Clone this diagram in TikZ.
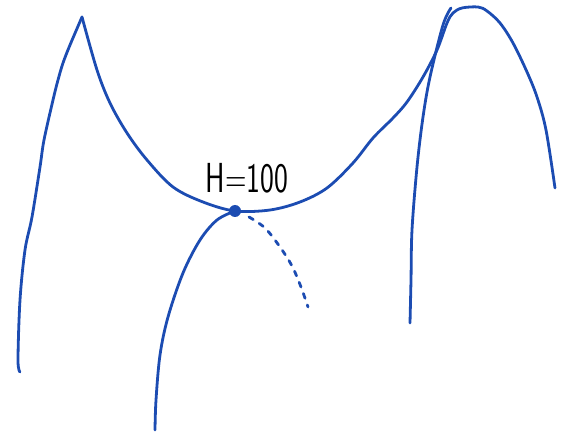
\documentclass[tikz,border=0pt]{standalone}
\definecolor{penblue}{RGB}{28,76,178}
\tikzset{
  pen/.style={penblue,line width=2.8pt,line cap=round,line join=round},
}
\begin{document}
\begin{tikzpicture}[x=1pt,y=-1pt]
\useasboundingbox (0,0) rectangle (564,435);
% left flank and first peak
\draw[pen] plot[smooth,tension=0.55] coordinates
{(20,372) (18,360) (20,300) (25,250) (32,217) (40,167) (44,140) (53,100) (58,80) (63,63) (70,45) (82,17)};
% valley through the saddle up to the right peak
\draw[pen] plot[smooth,tension=0.55] coordinates
{(82,17) (97,70) (110,103) (127,133) (147,160) (173,187) (203,202) (235,211) (270,210) (300,202) (327,188) (353,163) (373,138) (393,118) (407,102) (423,77) (437,50) (447,23) (453,13) (462,8) (478,7) (487,11) (500,23) (513,43) (527,72) (537,97) (546,130) (555,188)};
% second flank of the right peak
\draw[pen] plot[smooth,tension=0.55] coordinates
{(451,8) (443,25) (430,77) (423,117) (417,167) (412,230) (411,280) (410,323)};
\node[circle,fill=penblue,inner sep=0pt,minimum size=12pt] (saddle) at (235,211) {};
\draw[pen] plot[smooth,tension=0.55] coordinates
{(235,211) (217,220) (200,240) (183,273) (168,317) (160,355) (156,400) (155,430)};
\draw[pen,dash pattern=on 5pt off 7pt] plot[smooth,tension=0.55] coordinates
{(249,217) (265,228) (280,247) (292,266) (301,287) (308,307)};
\node[font=\sffamily\fontsize{42}{42}\selectfont,inner sep=0pt] (height) at (247,178) {\scalebox{0.7}[1]{H=100}};
\end{tikzpicture}
\end{document}
